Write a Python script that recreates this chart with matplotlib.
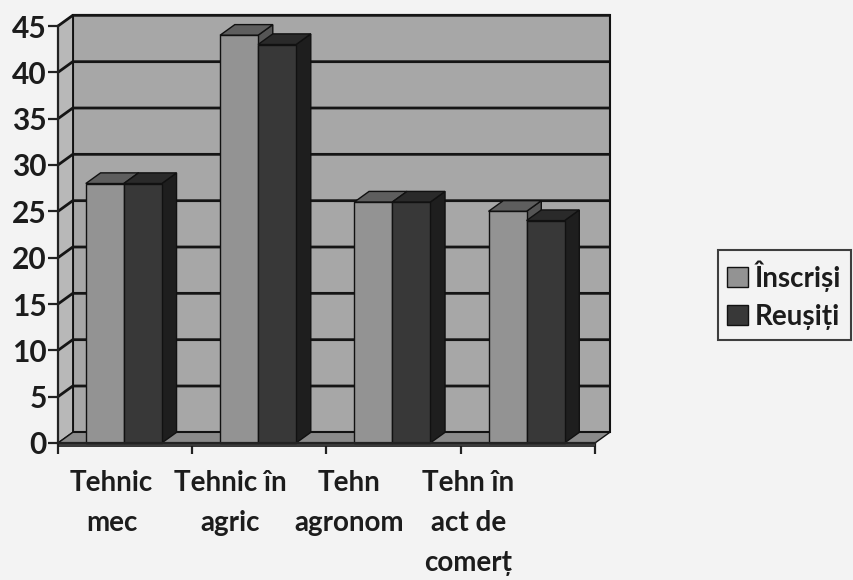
import matplotlib
matplotlib.use("Agg")
import matplotlib.pyplot as plt
from matplotlib.patches import Polygon, Rectangle

plt.rcParams['font.family'] = ['Lato', 'DejaVu Sans']

categories = ["Tehnic\nmec", "Tehnic în\nagric", "Tehn\nagronom", "Tehn în\nact de\ncomerț"]
series_names = ["Înscriși", "Reușiți"]
inscrisi = [28, 44, 26, 25]
reusiti = [28, 43, 26, 24]
yticks = [0, 5, 10, 15, 20, 25, 30, 35, 40, 45]

# 3D look parameters (style)
DX, DY = 0.11, 1.15
W = 0.283
front_cols = ["#939393", "#383838"]
top_cols = ["#5e5e5e", "#2a2a2a"]
side_cols = ["#555555", "#1e1e1e"]
TXT = "#1c1c1c"
WEIGHT = "bold"

fig = plt.figure(figsize=(8.54, 5.80), dpi=100, facecolor="#f3f3f3")
ax = fig.add_axes([58/854, 1-443/580, (595-58)/854, (443-26)/580])
ax.set_xlim(0, 4)
ax.set_ylim(0, 45)
ax.patch.set_visible(False)

def poly(pts, fc, z, ec="#111111", lw=1.0):
    ax.add_patch(Polygon(pts, closed=True, facecolor=fc, edgecolor=ec, lw=lw,
                         zorder=z, clip_on=False))

ymax = yticks[-1]
# back wall
poly([(DX, DY), (4+DX, DY), (4+DX, ymax+DY), (DX, ymax+DY)], "#a7a7a7", 1, lw=1.5)
# left wall
poly([(0, 0), (DX, DY), (DX, ymax+DY), (0, ymax)], "#b8b8b8", 1, lw=1.0)
# gridlines
for v in yticks[1:]:
    ax.plot([0, DX, 4+DX], [v, v+DY, v+DY], color="#151515", lw=2.0, zorder=2,
            clip_on=False, solid_capstyle="butt")
# floor
poly([(0, 0), (4, 0), (4+DX, DY), (DX, DY)], "#8a8a8a", 2, lw=1.0)
poly([(0, -0.35), (4, -0.35), (4, 0), (0, 0)], "#3c3c3c", 2, lw=0.5)

# bars
for i in range(len(categories)):
    c = i + 0.49
    for s, vals in enumerate([inscrisi, reusiti]):
        v = vals[i]
        x0 = c - W + s*W
        z = 3 + s
        poly([(x0+W, 0), (x0+W+DX, DY), (x0+W+DX, v+DY), (x0+W, v)], side_cols[s], z)
        poly([(x0, v), (x0+W, v), (x0+W+DX, v+DY), (x0+DX, v+DY)], top_cols[s], z)
        ax.add_patch(Rectangle((x0, 0), W, v, facecolor=front_cols[s],
                               edgecolor="#111111", lw=1.0, zorder=z, clip_on=False))

# axes styling
for sp in ["top", "right"]:
    ax.spines[sp].set_visible(False)
for sp in ["left", "bottom"]:
    ax.spines[sp].set_color("#222222")
    ax.spines[sp].set_linewidth(1.6)
    ax.spines[sp].set_zorder(10)
ax.set_yticks(yticks)
ax.set_yticklabels([str(t) for t in yticks], fontsize=21.5, fontweight=WEIGHT, color=TXT)
ax.tick_params(axis="y", length=7, width=1.6, color="#222222", pad=1)
ax.set_xticks(range(len(categories)+1))
ax.set_xticklabels([])
ax.tick_params(axis="x", length=8, width=1.6, color="#222222")

for i, lab in enumerate(categories):
    ax.text(0.40 + i*0.885, -2.9, lab, ha="center", va="top", fontsize=20,
            fontweight=WEIGHT, color=TXT, linespacing=1.68)

# legend
handles = [Rectangle((0, 0), 1, 1, facecolor=front_cols[k], edgecolor="#111111", lw=1.0)
           for k in range(2)]
leg = fig.legend(handles, series_names, loc="center right", bbox_to_anchor=(1.0, 1-295/580),
                 frameon=True, prop={"weight": WEIGHT, "size": 20},
                 handlelength=0.75, handleheight=0.75, handletextpad=0.25, borderpad=0.35,
                 labelspacing=0.45, fancybox=False, borderaxespad=0.1)
for t in leg.get_texts():
    t.set_color(TXT)
leg.get_frame().set_edgecolor("#111111")
leg.get_frame().set_linewidth(1.5)
leg.get_frame().set_facecolor("#f3f3f3")

fig.savefig("out.png", dpi=100, facecolor=fig.get_facecolor())
